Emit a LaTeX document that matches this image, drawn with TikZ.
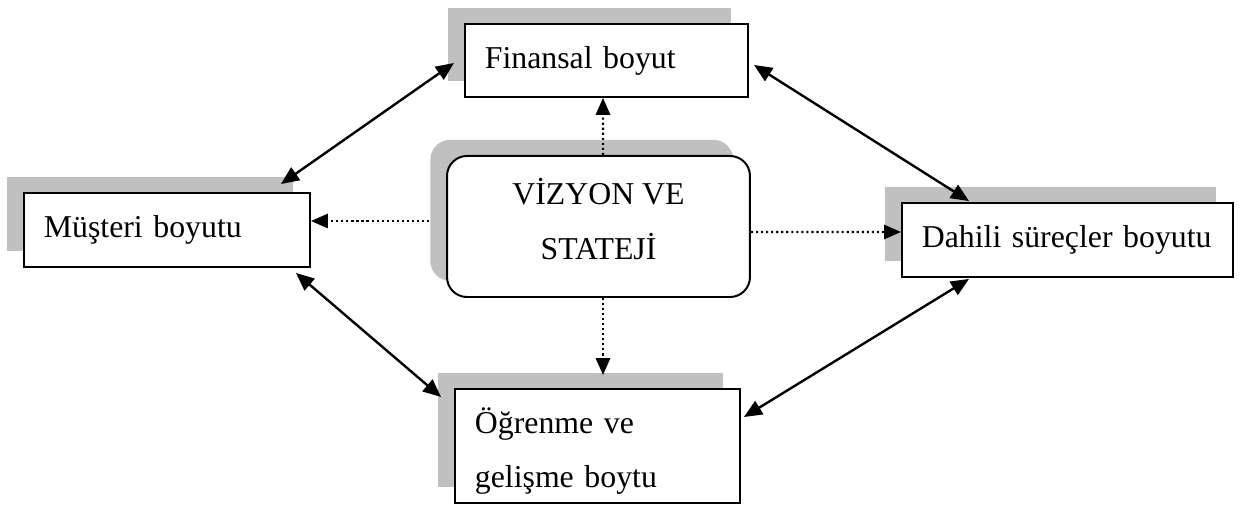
\documentclass[tikz,border=0pt]{standalone}
\usepackage{fontspec}
\setmainfont{Liberation Serif}
\usetikzlibrary{arrows.meta,shadows}

\definecolor{shadegray}{RGB}{192,192,192}

\tikzset{
  pane/.style={rectangle, draw=black, line width=0.75pt, fill=white,
    general shadow={fill=shadegray, shadow xshift=-6.3pt, shadow yshift=6.1pt},
    font=\fontsize{12pt}{20.7pt}\selectfont},
  leftpane/.style={pane, align=left, inner xsep=7.5pt, inner ysep=0pt},
  link/.style={line width=0.9pt, {Triangle[length=6.8pt,width=5.8pt]}-{Triangle[length=6.8pt,width=5.8pt]}},
  dotlink/.style={line width=0.8pt, dash pattern=on 0.8pt off 1.1pt, -{Triangle[length=6.4pt,width=5.4pt]}}
}

\begin{document}
\begin{tikzpicture}[x=0.3773pt, y=-0.3773pt]

\useasboundingbox (0,0) rectangle (1240,506);

% boxes
\node[leftpane, text width=91.8pt, minimum height=27.5pt] (fin) at (606.5,60.5) {Finansal boyut};
\node[leftpane, text width=92.9pt, minimum height=27.9pt] (must) at (167,230) {Müşteri boyutu};
\node[leftpane, text width=109.9pt, minimum height=27.9pt] (dah) at (1067.5,240) {Dahili süreçler boyutu};
\node[leftpane, text width=92.5pt, minimum height=43pt] (ogr) at (597.5,446) {\rule{0pt}{13.5pt}Öğrenme ve\\gelişme boytu};
\node[pane, rounded corners=7.5pt, minimum width=114.3pt, minimum height=53.2pt, align=center] (ctr) at (598.5,226.5) {VİZYON VE\\STATEJİ\rule[-6pt]{0pt}{6pt}};

% two-way links
\draw[link] ([shift={(-10,2.5)}]fin.west) -- ([shift={(-30,-8)}]must.north east);
\draw[link] ([shift={(-15,5)}]must.south east) -- ([shift={(-13,9)}]ogr.north west);
\draw[link] ([shift={(5,4.5)}]fin.east) -- ([shift={(68,-1)}]dah.north west);
\draw[link] ([shift={(68,1)}]dah.south west) -- ([shift={(3,29)}]ogr.north east);

% from the centre
\draw[dotlink] ([shift={(-17,-5.5)}]ctr.west) -- ([shift={(0,-9)}]must.east);
\draw[dotlink] ([shift={(4.5,0)}]ctr.north) -- ([shift={(-3.5,0)}]fin.south);
\draw[dotlink] ([shift={(0,5.5)}]ctr.east) -- ([shift={(0,-8)}]dah.west);
\draw[dotlink] ([shift={(4.5,0)}]ctr.south) -- ([shift={(5.5,-13)}]ogr.north);

\end{tikzpicture}
\end{document}
